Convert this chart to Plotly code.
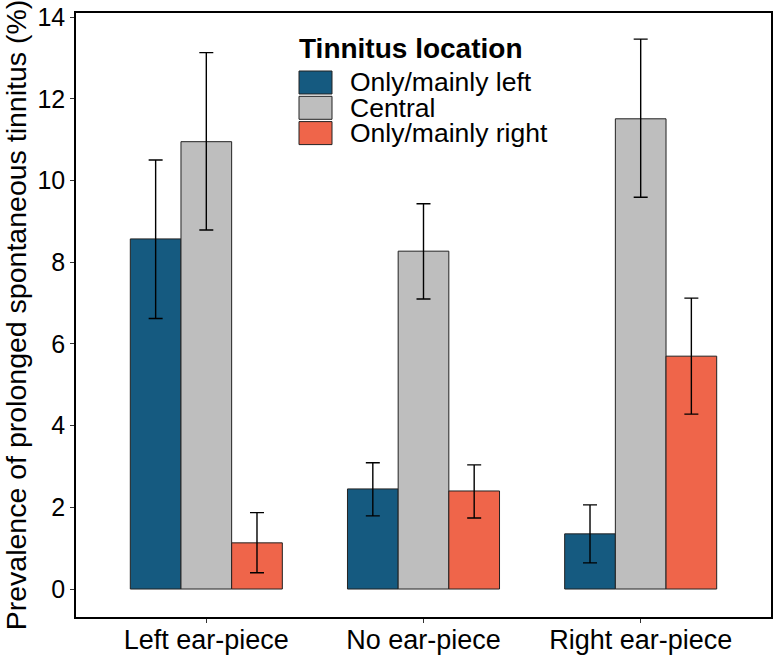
import plotly.graph_objects as go

categories = ["Left ear-piece", "No ear-piece", "Right ear-piece"]
series_names = ["Only/mainly left", "Central", "Only/mainly right"]
series_colors = ["#155A80", "#BEBEBE", "#EF654A"]

left_vals = [8.57, 2.45, 1.35]
left_hi = [10.50, 3.09, 2.06]
left_lo = [6.62, 1.79, 0.64]

central_vals = [10.95, 8.27, 11.51]
central_hi = [13.13, 9.43, 13.46]
central_lo = [8.79, 7.10, 9.59]

right_vals = [1.13, 2.40, 5.70]
right_hi = [1.87, 3.04, 7.12]
right_lo = [0.40, 1.74, 4.28]

y_ticks = [0, 2, 4, 6, 8, 10, 12, 14]

series = [
    (left_vals, left_hi, left_lo),
    (central_vals, central_hi, central_lo),
    (right_vals, right_hi, right_lo),
]

FONT = "Liberation Sans, Arial, sans-serif"

fig = go.Figure()
for name, color, (vals, hi, lo) in zip(series_names, series_colors, series):
    fig.add_trace(go.Bar(
        x=categories, y=vals, name=name,
        marker=dict(color=color, line=dict(color="#222222", width=1)),
        error_y=dict(type="data", symmetric=False,
                     array=[h - v for h, v in zip(hi, vals)],
                     arrayminus=[v - l for v, l in zip(vals, lo)],
                     color="black", thickness=1.4, width=7),
        showlegend=False,
    ))

# Panel geometry in pixels (for the manual legend)
W, H = 774, 657
ml, mr, mt, mb = 76, 3, 13, 40
pw, ph = W - ml - mr, H - mt - mb

def px(xp):
    return (xp - ml) / pw

def py(yp):
    return (H - mb - yp) / ph

shapes = []
annotations = []
annotations.append(dict(x=px(297), y=py(49), xref="paper", yref="paper",
                        text="<b>Tinnitus location</b>", showarrow=False,
                        xanchor="left", yanchor="middle",
                        font=dict(size=28, color="black", family=FONT)))
for i, (name, color) in enumerate(zip(series_names, series_colors)):
    top = 71 + i * 25.3
    shapes.append(dict(type="rect", xref="paper", yref="paper",
                       x0=px(299), x1=px(332), y0=py(top + 23), y1=py(top),
                       fillcolor=color, line=dict(color="#222222", width=1)))
    annotations.append(dict(x=px(348), y=py(top + 11.5), xref="paper", yref="paper",
                            text=name, showarrow=False, xanchor="left", yanchor="middle",
                            font=dict(size=26.5, color="black", family=FONT)))

fig.update_layout(
    width=W, height=H,
    margin=dict(l=ml, r=mr, t=mt, b=mb, pad=0),
    paper_bgcolor="white", plot_bgcolor="white",
    barmode="group", bargap=0.3, bargroupgap=0,
    font=dict(family=FONT, color="black"),
    shapes=shapes, annotations=annotations,
    showlegend=False,
)
fig.update_xaxes(
    range=[-0.6, 2.6], showline=True, linecolor="black", linewidth=1.5, mirror=True,
    ticks="outside", ticklen=4, tickcolor="#333333", tickwidth=1.2,
    tickfont=dict(size=27, color="black", family=FONT), showgrid=False, zeroline=False,
    automargin=False, ticklabelstandoff=-6,
)
fig.update_yaxes(
    range=[-0.685, 14.1], tickvals=y_ticks, showline=True, linecolor="black",
    linewidth=1.5, mirror=True, ticks="outside", ticklen=4, tickcolor="#333333",
    tickwidth=1.2, tickfont=dict(size=25, color="black", family=FONT),
    showgrid=False, zeroline=False, automargin=False,
    title=dict(text="Prevalence of prolonged spontaneous tinnitus (%)",
               font=dict(size=28.5, color="black", family=FONT), standoff=6),
)

fig.write_html("out.html")
